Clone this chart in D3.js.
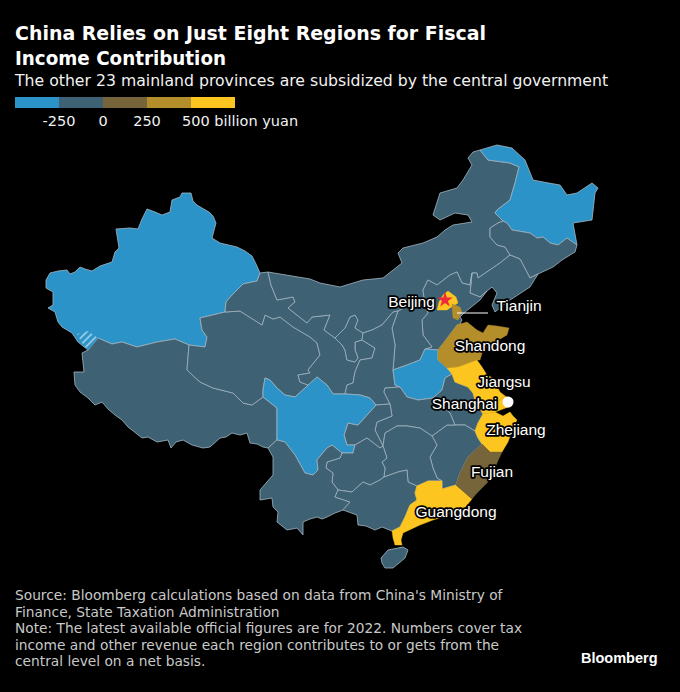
<!DOCTYPE html>
<html>
<head>
<meta charset="utf-8">
<script src="https://cdn.jsdelivr.net/npm/d3@7"></script>
<style>
  html, body { margin: 0; padding: 0; background: #000; }
  svg { display: block; }
  text { font-family: "DejaVu Sans", sans-serif; fill: #fff; }
</style>
</head>
<body>
<div id="chart"></div>
<script>
const provinces = ["Xinjiang", "Tibet", "Qinghai", "Gansu", "Ningxia", "Inner Mongolia", "Heilongjiang", "Jilin", "Liaoning", "Hebei", "Shanxi", "Shaanxi", "Henan", "Shandong", "Jiangsu", "Shanghai", "Zhejiang", "Anhui", "Jiangxi", "Hubei", "Hunan", "Chongqing", "Sichuan", "Guizhou", "Yunnan", "Guangxi", "Guangdong", "Fujian", "Hainan", "Beijing", "Tianjin"];
const values = [-300, -150, -120, -200, -80, -150, -300, -170, -100, -200, -60, -100, -270, 300, 600, 700, 550, -130, -150, -190, -220, -60, -260, -180, -210, -190, 800, 120, -70, 600, 260];

const binLimits = [-250, 0, 250, 500];
const binColors = ["#2b93c7", "#3e6174", "#76643a", "#b58e2c", "#fdc51f"];
const legendDomain = [-500, 750];
const legendTicks = ["-250", "0", "250", "500 billion yuan"];

const titleLines = ["China Relies on Just Eight Regions for Fiscal", "Income Contribution"];
const subtitle = "The other 23 mainland provinces are subsidized by the central government";
const footLines = [
  "Source: Bloomberg calculations based on data from China's Ministry of",
  "Finance, State Taxation Administration",
  "Note: The latest available official figures are for 2022. Numbers cover tax",
  "income and other revenue each region contributes to or gets from the",
  "central level on a net basis."
];

// shared borders in pre-projected map units, like the arcs of a topojson file
const arcs = {
  xjNorth: [[260,273],[256,264],[252,256],[245,251],[237,247],[220,243],[212,238],[216,223],[213,216],[209,212],[202,208],[197,205],[193,201],[191,193],[182,193],[180,197],[172,200],[170,212],[162,215],[155,212],[147,209],[142,219],[138,229],[130,228],[116,229],[119,248],[115,252],[112,262],[100,266],[92,271],[85,269],[80,267],[75,272],[70,274],[67,270],[58,271],[50,273],[46,280],[46,288],[53,292],[53,305],[48,308],[55,312],[58,322],[62,327],[72,333],[78,342],[88,350]],
  xjGs: [[260,273],[257,281],[243,284],[232,295],[226,302],[225,312]],
  xjQh: [[225,312],[200,318],[202,330],[207,337],[205,347],[189,345]],
  xjXz: [[189,345],[175,339],[157,342],[137,347],[128,344],[122,342],[112,344],[98,338],[88,350]],
  xzOuter: [[88,350],[82,353],[84,372],[74,372],[75,385],[80,392],[88,398],[95,405],[102,402],[108,409],[115,415],[122,420],[128,427],[132,430],[142,438],[148,437],[157,442],[168,440],[171,448],[176,442],[183,440],[192,445],[203,448],[210,447],[220,438],[226,437],[232,433],[240,435],[247,433],[250,443],[257,444],[263,447],[268,448]],
  xzYn: [[268,448],[277,440]],
  xzSc: [[277,440],[277,408],[263,397]],
  xzQh: [[263,397],[252,405],[243,403],[233,393],[213,388],[200,382],[187,370],[189,345]],
  qhSc: [[263,397],[263,390],[265,378],[270,380],[277,388],[285,395],[295,397],[305,388]],
  qhGs: [[225,312],[240,311],[262,325],[265,315],[273,319],[280,317],[293,327],[310,337],[317,343],[320,355],[308,370],[310,373],[298,375],[300,382],[308,385],[305,388]],
  scGs: [[305,388],[317,377],[327,385],[333,394],[345,394]],
  gsOuter: [[260,273],[268,272]],
  gsIm: [[268,272],[271,285],[277,300],[293,297],[295,302],[288,308],[307,323],[312,317],[330,315],[324,330],[335,338]],
  gsNx: [[335,338],[342,345],[345,350],[347,360],[355,362],[358,358],[355,350],[355,342],[362,340]],
  nxIm: [[335,338],[345,328],[350,317],[355,315],[358,320],[355,328],[363,333]],
  nxSn: [[363,333],[362,340]],
  gsSn: [[362,340],[375,348],[372,358],[360,360],[355,372],[353,383],[347,385],[345,394]],
  imSn: [[363,333],[372,330],[382,325],[393,312],[398,311]],
  imSx: [[398,311],[412,304],[425,305]],
  imHe: [[425,305],[423,290],[428,280],[437,285],[450,275],[457,272],[462,283],[470,285],[472,273]],
  imLn: [[472,273],[477,273],[478,278],[500,263],[510,255]],
  imJl: [[510,255],[505,247],[497,245],[490,237],[490,228],[498,223],[503,221]],
  imHl: [[503,221],[495,213],[497,210],[510,200],[515,183],[519,167],[510,163],[488,160],[480,150]],
  imOuter: [[268,272],[310,279],[320,283],[340,287],[363,280],[383,278],[402,263],[398,253],[403,248],[423,243],[437,237],[445,230],[453,225],[472,222],[468,215],[455,213],[440,220],[433,215],[440,193],[457,188],[463,180],[472,165],[468,158],[473,152],[480,150]],
  hlOuter: [[480,150],[497,145],[512,148],[525,160],[533,180],[543,182],[560,185],[567,195],[577,193],[592,183],[598,188],[595,193],[592,220],[573,223],[577,245]],
  hlJl: [[503,221],[507,223],[512,230],[530,233],[537,238],[543,237],[550,243],[558,245],[567,238],[577,245]],
  jlOuter: [[577,245],[575,252],[562,260],[553,267],[538,274]],
  jlLn: [[510,255],[520,259],[530,278],[538,274]],
  lnOuter: [[538,274],[530,287],[507,302],[495,312],[492,305],[497,293],[492,287],[487,291]],
  heLn: [[472,273],[470,293],[480,297],[487,291]],
  heCoast: [[487,291],[480,300],[465,312],[460,317],[462,320],[460,324]],
  heSd: [[460,324],[457,325],[448,337],[438,350]],
  heHn: [[438,350],[425,349]],
  heSx: [[425,349],[432,347],[423,335],[422,320],[428,313],[425,305]],
  sxSn: [[398,311],[392,328],[395,345],[393,370]],
  sxHn: [[393,370],[407,365],[420,360],[425,349]],
  snHn: [[393,370],[395,385],[400,387]],
  hnHb: [[400,387],[407,397],[418,400],[433,398]],
  hnAh: [[433,398],[442,390],[445,378],[452,374]],
  hnJs: [[452,374],[447,368]],
  hnSd: [[447,368],[438,360],[438,350]],
  sdJs: [[447,368],[458,367],[477,360]],
  sdOuter: [[460,324],[467,322],[477,330],[483,333],[488,325],[497,326],[509,328],[507,335],[490,345],[483,350],[480,360],[477,360]],
  jsOuter: [[477,360],[482,367],[487,375],[493,378],[500,392],[505,396]],
  jsAh: [[452,374],[455,382],[468,387],[473,393],[475,400],[483,414]],
  jsZj: [[483,414],[495,412]],
  jsSha: [[505,396],[497,402],[495,412]],
  shaOuter: [[505,396],[513,400],[511,406],[503,409],[495,412]],
  zjOuter: [[495,412],[503,416],[510,412],[513,416],[517,420],[513,428],[508,442],[502,452]],
  zjFj: [[502,452],[490,452],[482,444]],
  zjAh: [[483,414],[478,423],[475,431]],
  zjJx: [[475,431],[478,438],[482,444]],
  ahJx: [[475,431],[465,425],[455,425]],
  ahHb: [[455,425],[450,413],[433,398]],
  hbJx: [[455,425],[447,425],[432,436]],
  hbHu: [[432,436],[420,428],[407,426],[397,426],[385,433],[383,446]],
  hbCq: [[383,446],[375,430],[377,422],[392,416],[390,404]],
  hbSn: [[390,404],[384,392],[385,388],[400,387]],
  cqSn: [[376,405],[390,404]],
  scSn: [[345,394],[360,395],[370,398],[376,405]],
  scCq: [[376,405],[358,425],[348,423],[344,435],[347,445],[355,445]],
  cqGz: [[355,445],[367,438],[380,448],[383,446]],
  scGz: [[355,445],[353,453],[342,453]],
  scYn: [[277,440],[285,442],[295,455],[305,473],[313,475],[318,470],[317,460],[327,448],[332,445],[342,453]],
  ynGz: [[342,453],[340,458],[327,462],[326,468],[333,473],[332,482],[338,490]],
  gzGx: [[338,490],[352,492],[363,482],[370,485],[380,480],[384,477]],
  gzHu: [[383,446],[387,458],[382,462],[385,468],[384,477]],
  ynGx: [[338,490],[335,497],[350,502],[343,510]],
  ynOuter: [[268,448],[273,457],[273,475],[260,490],[260,500],[272,498],[273,507],[278,512],[277,522],[287,530],[297,528],[303,535],[303,522],[310,519],[317,517],[322,519],[327,517],[335,513],[343,510]],
  gxOuter: [[343,510],[357,515],[358,525],[366,526],[375,530],[382,527],[392,531]],
  gxHu: [[384,477],[398,472],[407,470],[408,482],[417,486]],
  gxGd: [[417,486],[415,493],[417,500],[410,505],[405,517],[400,527],[392,531]],
  huGd: [[417,486],[428,481],[442,481]],
  huJx: [[432,436],[437,445],[430,457],[433,468],[437,478],[442,481]],
  jxGd: [[442,481],[442,489],[456,485]],
  jxFj: [[456,485],[460,473],[468,457],[482,444]],
  fjGd: [[456,485],[472,499]],
  fjOuter: [[502,452],[497,463],[490,480],[477,493],[472,499]],
  gdOuter: [[392,531],[393,538],[395,545],[402,545],[401,540],[403,533],[420,525],[433,520],[443,517],[463,510],[472,499]],
  hainan: [[381,558],[388,550],[403,547],[408,550],[405,558],[393,568],[385,568],[382,563],[381,558]],
  beijing: [[448,291],[456,297],[458,303],[453,306],[447,310],[437,310],[439,302],[443,295],[448,291]],
  tianjin: [[452,304],[460,307],[462,312],[458,320],[453,318],[452,307],[452,304]],
  aksai: [[77,334],[88,331],[98,338],[88,350],[82,343],[77,334]]
};

// "-" means the arc is walked backwards
const rings = {
  "Xinjiang": ["xjNorth", "-xjXz", "-xjQh", "-xjGs"],
  "Tibet": ["xzOuter", "xzYn", "xzSc", "xzQh", "xjXz"],
  "Qinghai": ["-xjQh", "qhGs", "-qhSc", "xzQh"],
  "Gansu": ["gsOuter", "gsIm", "gsNx", "gsSn", "-scGs", "-qhGs", "-xjGs"],
  "Ningxia": ["nxIm", "nxSn", "-gsNx"],
  "Inner Mongolia": ["imOuter", "-imHl", "-imJl", "-imLn", "-imHe", "-imSx", "-imSn", "-nxIm", "-gsIm"],
  "Heilongjiang": ["hlOuter", "-hlJl", "imHl"],
  "Jilin": ["hlJl", "jlOuter", "-jlLn", "imJl"],
  "Liaoning": ["jlLn", "lnOuter", "-heLn", "imLn"],
  "Hebei": ["imHe", "heLn", "heCoast", "heSd", "heHn", "heSx"],
  "Shanxi": ["imSx", "-heSx", "-sxHn", "-sxSn"],
  "Shaanxi": ["imSn", "sxSn", "snHn", "-hbSn", "-cqSn", "-scSn", "-gsSn", "-nxSn"],
  "Henan": ["sxHn", "-heHn", "-hnSd", "-hnJs", "-hnAh", "-hnHb", "-snHn"],
  "Shandong": ["sdOuter", "-sdJs", "hnSd", "-heSd"],
  "Jiangsu": ["sdJs", "jsOuter", "jsSha", "-jsZj", "-jsAh", "hnJs"],
  "Shanghai": ["shaOuter", "-jsSha"],
  "Zhejiang": ["zjOuter", "zjFj", "-zjJx", "-zjAh", "jsZj"],
  "Anhui": ["jsAh", "zjAh", "ahJx", "ahHb", "hnAh"],
  "Jiangxi": ["-ahJx", "zjJx", "-jxFj", "-jxGd", "-huJx", "-hbJx"],
  "Hubei": ["hnHb", "-ahHb", "hbJx", "hbHu", "hbCq", "hbSn"],
  "Hunan": ["-hbHu", "huJx", "-huGd", "-gxHu", "-gzHu"],
  "Chongqing": ["cqSn", "-hbCq", "-cqGz", "-scCq"],
  "Sichuan": ["xzSc", "qhSc", "scGs", "scSn", "scCq", "scGz", "-scYn"],
  "Guizhou": ["cqGz", "gzHu", "-gzGx", "-ynGz", "-scGz"],
  "Yunnan": ["-xzYn", "ynOuter", "-ynGx", "-ynGz", "-scYn"],
  "Guangxi": ["ynGx", "gxOuter", "-gxGd", "-gxHu", "-gzGx"],
  "Guangdong": ["huGd", "jxGd", "fjGd", "-gdOuter", "-gxGd"],
  "Fujian": ["jxFj", "-zjFj", "fjOuter", "-fjGd"],
  "Hainan": ["hainan"],
  "Beijing": ["beijing"],
  "Tianjin": ["tianjin"]
};

const labelNames = ["Beijing", "Tianjin", "Shandong", "Jiangsu", "Shanghai", "Zhejiang", "Fujian", "Guangdong"];
const labelSpots = [[411.5,302],[519,306],[490,346],[504,382],[464.5,404],[516,430],[492,472],[456,512]];

const width = 680, height = 692;

function ringOf(name) {
  const pts = [];
  rings[name].forEach(a => {
    const back = a[0] === "-";
    const line = arcs[back ? a.slice(1) : a];
    pts.push(...(back ? line.slice().reverse() : line));
  });
  pts.push(pts[0]);
  return pts;
}

const features = provinces.map((name, i) => ({
  type: "Feature",
  properties: { name: name, value: values[i] },
  geometry: { type: "Polygon", coordinates: [ringOf(name)] }
}));

const projection = d3.geoIdentity().fitExtent([[46, 145], [598, 568]], { type: "FeatureCollection", features: features });
const path = d3.geoPath(projection);
const color = d3.scaleThreshold().domain(binLimits).range(binColors);

const svg = d3.select("#chart").append("svg")
  .attr("width", width)
  .attr("height", height)
  .attr("viewBox", `0 0 ${width} ${height}`);

svg.append("rect").attr("width", width).attr("height", height).attr("fill", "#000");

const defs = svg.append("defs");
const hatch = defs.append("pattern")
  .attr("id", "hatch")
  .attr("width", 5)
  .attr("height", 5)
  .attr("patternUnits", "userSpaceOnUse")
  .attr("patternTransform", "rotate(45)");
hatch.append("rect").attr("width", 5).attr("height", 5).attr("fill", binColors[0]);
hatch.append("rect").attr("width", 2).attr("height", 5).attr("fill", "#8cc6e3");

// title block
const titleWidths = [471, 211];
svg.selectAll(".title")
  .data(titleLines)
  .enter().append("text")
  .attr("class", "title")
  .attr("x", 15)
  .attr("y", (d, i) => 40 + i * 24.5)
  .attr("font-size", 19)
  .attr("font-weight", "bold")
  .attr("textLength", (d, i) => titleWidths[i])
  .attr("lengthAdjust", "spacingAndGlyphs")
  .text(d => d);

svg.append("text")
  .attr("x", 15)
  .attr("y", 86)
  .attr("font-size", 15.7)
  .style("fill", "#f2f2f2")
  .text(subtitle);

// legend
const legendX = d3.scaleLinear().domain(legendDomain).range([15, 235]);
const legendEdges = [legendDomain[0], ...binLimits, legendDomain[1]];
svg.selectAll(".swatch")
  .data(binColors)
  .enter().append("rect")
  .attr("class", "swatch")
  .attr("x", (d, i) => legendX(legendEdges[i]))
  .attr("width", (d, i) => legendX(legendEdges[i + 1]) - legendX(legendEdges[i]))
  .attr("y", 97)
  .attr("height", 11)
  .attr("fill", d => d);

svg.selectAll(".tick")
  .data(legendTicks)
  .enter().append("text")
  .attr("class", "tick")
  .attr("x", (d, i) => i < 3 ? legendX(binLimits[i]) : legendX(binLimits[i]) - 9)
  .attr("y", 126)
  .attr("font-size", 14.5)
  .attr("text-anchor", (d, i) => i < 3 ? "middle" : "start")
  .style("fill", "#f2f2f2")
  .text(d => d);

// provinces: cool ones first so the warm ones cover the light border lines
const isWarm = d => d.properties.value > 0;
const map = svg.append("g");
map.selectAll("path")
  .data(features.filter(d => !isWarm(d)).concat(features.filter(isWarm)))
  .enter().append("path")
  .attr("d", path)
  .attr("fill", d => color(d.properties.value))
  .attr("stroke", d => isWarm(d) ? color(d.properties.value) : "#a3b6c1")
  .attr("stroke-width", d => isWarm(d) ? 0.4 : 0.8)
  .attr("stroke-linejoin", "round");

map.append("path")
  .datum({ type: "Polygon", coordinates: [arcs.aksai] })
  .attr("d", path)
  .attr("fill", "url(#hatch)");

// Beijing star, Shanghai dot, Tianjin leader
const at = (name, i) => projection(labelSpots[labelNames.indexOf(name)])[i];
const beijingPoint = projection([445, 300]);
map.append("path")
  .attr("d", d3.symbol(d3.symbolStar, 75))
  .attr("transform", `translate(${beijingPoint[0]},${beijingPoint[1]})`)
  .attr("fill", "#ee2b3b");

const shanghaiPoint = projection([508, 402]);
map.append("circle")
  .attr("cx", shanghaiPoint[0])
  .attr("cy", shanghaiPoint[1])
  .attr("r", 5.5)
  .attr("fill", "#fff");

const leaderEnds = [[457, 313], [488, 313]];
map.append("path")
  .datum({ type: "LineString", coordinates: leaderEnds })
  .attr("d", path)
  .attr("fill", "none")
  .attr("stroke", "#fff")
  .attr("stroke-width", 1);

// region labels with a dark halo
svg.selectAll(".region")
  .data(labelNames)
  .enter().append("text")
  .attr("class", "region")
  .attr("x", d => at(d, 0))
  .attr("y", d => at(d, 1) + 4.5)
  .attr("text-anchor", "middle")
  .attr("font-size", 15.5)
  .style("font-family", "'Liberation Sans', sans-serif")
  .style("paint-order", "stroke")
  .style("stroke", "#000")
  .style("stroke-width", 3.5)
  .style("stroke-linejoin", "round")
  .text(d => d);

// footer
svg.selectAll(".foot")
  .data(footLines)
  .enter().append("text")
  .attr("class", "foot")
  .attr("x", 15)
  .attr("y", (d, i) => 600 + i * 16.6)
  .attr("font-size", 13.75)
  .style("fill", "#c9c9c9")
  .text(d => d);

svg.append("text")
  .attr("x", 581)
  .attr("y", 663)
  .attr("font-size", 14.5)
  .attr("font-weight", "bold")
  .style("font-family", "'Liberation Sans', sans-serif")
  .text("Bloomberg");
</script>
</body>
</html>
